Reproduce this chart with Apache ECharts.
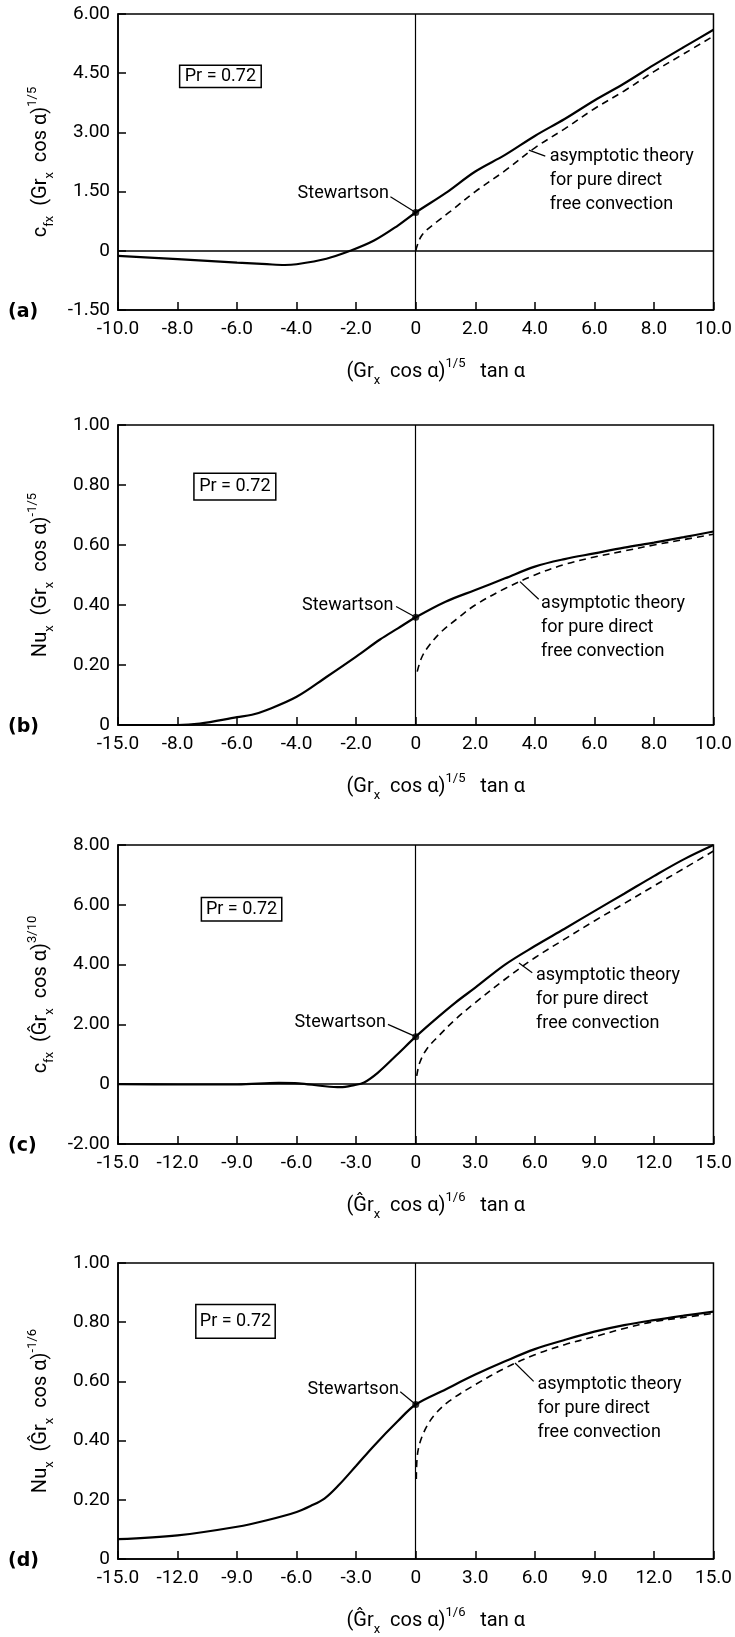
<!DOCTYPE html>
<html>
<head>
<meta charset="utf-8">
<script src="https://cdn.jsdelivr.net/npm/echarts@6/dist/echarts.min.js"></script>
<style>
html,body{margin:0;padding:0;background:#fff;}
#chart{width:735px;height:1637px;}
</style>
</head>
<body>
<div id="chart"></div>
<script>
// (a) skin friction, c_fx (Gr_x cos a)^1/5
var aSolidX = [-10,-8,-6,-5,-4.4,-4,-3,-2.2,-1.4,-0.6,0,1,2,3,4,5,6,7,8,9,10];
var aSolidY = [-0.13,-0.21,-0.30,-0.34,-0.36,-0.34,-0.2,0,0.26,0.64,0.97,1.46,2.01,2.43,2.91,3.34,3.81,4.24,4.71,5.16,5.6];
var aDashX = [0,0.2,0.7,1.15,2,3,4,5,6,7,8,9,10];
var aDashY = [0,0.39,0.73,0.99,1.5,2.03,2.61,3.09,3.6,4.05,4.54,4.99,5.44];

// (b) Nusselt, Nu_x (Gr_x cos a)^-1/5  (left end of the axis is broken: first tick reads -15.0)
var bSolidX = [-10,-8,-7.25,-6,-5.5,-5,-4,-3,-2,-1.2,-0.6,0,1,2,3,4,5,6,7,8,9,10];
var bSolidY = [0,0,0.005,0.026,0.034,0.05,0.094,0.16,0.228,0.285,0.322,0.359,0.411,0.45,0.489,0.528,0.553,0.572,0.591,0.608,0.626,0.645];
var bDashX = [0.05,0.2,0.45,0.85,1.4,2,3,4,5,6,7,8,9,10];
var bDashY = [0.178,0.225,0.265,0.31,0.355,0.40,0.455,0.50,0.535,0.56,0.58,0.60,0.618,0.636];
var bXLabels = ['-15.0','-8.0','-6.0','-4.0','-2.0','0','2.0','4.0','6.0','8.0','10.0'];

// (c) skin friction, c_fx (G^r_x cos a)^3/10
var cSolidX = [-15,-12,-9,-6.9,-5.9,-4.7,-3.8,-3.1,-2.6,-1.9,-1,0,0.9,2,3,4.5,6,7.5,9,10.5,12,13.5,15];
var cSolidY = [0,-0.01,-0.01,0.045,0.03,-0.06,-0.1,-0.03,0.06,0.39,0.95,1.59,2.12,2.73,3.23,4.0,4.62,5.2,5.79,6.37,6.96,7.52,8.0];
var cDashX = [0.05,0.2,0.55,1.15,2,3,4.5,6,7.5,9,10.5,12,13.5,15];
var cDashY = [0.28,0.72,1.17,1.61,2.17,2.73,3.51,4.23,4.85,5.46,6.04,6.63,7.21,7.8];

// (d) Nusselt, Nu_x (G^r_x cos a)^-1/6
var dSolidX = [-15,-12,-9,-7.5,-6,-5.3,-4.6,-3.9,-3,-2.1,-0.9,0,1.5,3,4.5,6,7.5,9,10.5,12,13.5,15];
var dSolidY = [0.067,0.08,0.109,0.131,0.159,0.179,0.204,0.248,0.315,0.383,0.466,0.522,0.573,0.623,0.668,0.709,0.74,0.768,0.79,0.807,0.822,0.836];
var dDashX = [0.03,0.1,0.4,0.9,1.7,3,4.5,6,7.5,9,10.5,12,13.5,15];
var dDashY = [0.27,0.36,0.427,0.483,0.534,0.589,0.645,0.69,0.724,0.751,0.779,0.802,0.816,0.83];

// Stewartson values at x = 0
var stewartson = [0.97, 0.359, 1.59, 0.522];

var FONT = "Roboto, 'Liberation Sans', sans-serif";

function zip(xs, ys) {
	return xs.map(function (x, i) { return [x, ys[i]]; });
}

var rich = {
	m: {fontSize: 20, lineHeight: 30, verticalAlign: 'middle', fontFamily: FONT, color: '#000'},
	s: {fontSize: 13, lineHeight: 13, verticalAlign: 'bottom', fontFamily: FONT, color: '#000'},
	p: {fontSize: 13, lineHeight: 13, verticalAlign: 'top', fontFamily: FONT, color: '#000'}
};

var panels = [
	{
		top: 14, height: 296, xmin: -10, xmax: 10, xint: 2, ymin: -1.5, ymax: 6, yint: 1.5,
		solid: zip(aSolidX, aSolidY), dash: zip(aDashX, aDashY), zeroLine: true,
		xFmt: function (v) { return v === 0 ? '0' : v.toFixed(1); },
		yName: '{m|c}{s|fx}{m|  (Gr}{s|x}{m|  cos α)}{p|1/5}',
		xName: '{m|(Gr}{s|x}{m|  cos α)}{p|1/5}{m|   tan α}',
		tag: '(a)',
		pr: [-7.93, 4.70, -5.19, 4.14],
		stew: [-0.9, 1.45], stewLead: [[-0.85, 1.37], [0, 0.97]],
		asym: [4.5, 2.4], asymLead: [[4.35, 2.4], [3.8, 2.55]]
	},
	{
		top: 425, height: 300, xmin: -10, xmax: 10, xint: 2, ymin: 0, ymax: 1, yint: 0.2,
		solid: zip(bSolidX, bSolidY), dash: zip(bDashX, bDashY), zeroLine: false,
		xFmt: function (v) { return bXLabels[Math.round((v + 10) / 2)]; },
		yName: '{m|Nu}{s|x}{m|  (Gr}{s|x}{m|  cos α)}{p|-1/5}',
		xName: '{m|(Gr}{s|x}{m|  cos α)}{p|1/5}{m|   tan α}',
		tag: '(b)',
		pr: [-7.45, 0.839, -4.7, 0.75],
		stew: [-0.75, 0.40], stewLead: [[-0.66, 0.395], [0, 0.359]],
		asym: [4.21, 0.406], asymLead: [[4.13, 0.419], [3.5, 0.478]]
	},
	{
		top: 845, height: 299, xmin: -15, xmax: 15, xint: 3, ymin: -2, ymax: 8, yint: 2,
		solid: zip(cSolidX, cSolidY), dash: zip(cDashX, cDashY), zeroLine: true,
		xFmt: function (v) { return v === 0 ? '0' : v.toFixed(1); },
		yName: '{m|c}{s|fx}{m|  (Ĝr}{s|x}{m|  cos α)}{p|3/10}',
		xName: '{m|(Ĝr}{s|x}{m|  cos α)}{p|1/6}{m|   tan α}',
		tag: '(c)',
		pr: [-10.8, 6.24, -6.75, 5.46],
		stew: [-1.5, 2.06], stewLead: [[-1.4, 2.0], [0, 1.59]],
		asym: [6.06, 3.62], asymLead: [[5.87, 3.73], [5.2, 4.05]]
	},
	{
		top: 1263, height: 298, xmin: -15, xmax: 15, xint: 3, ymin: 0, ymax: 1, yint: 0.2,
		solid: zip(dSolidX, dSolidY), dash: zip(dDashX, dDashY), zeroLine: false,
		xFmt: function (v) { return v === 0 ? '0' : v.toFixed(1); },
		yName: '{m|Nu}{s|x}{m|  (Ĝr}{s|x}{m|  cos α)}{p|-1/6}',
		xName: '{m|(Ĝr}{s|x}{m|  cos α)}{p|1/6}{m|   tan α}',
		tag: '(d)',
		pr: [-11.08, 0.86, -7.08, 0.746],
		stew: [-0.85, 0.573], stewLead: [[-0.78, 0.565], [0, 0.522]],
		asym: [6.13, 0.589], asymLead: [[5.94, 0.60], [5.0, 0.662]]
	}
];

var grids = [], xAxes = [], yAxes = [], series = [];

panels.forEach(function (p, i) {
	grids.push({
		left: 118, width: 599, top: p.top, height: p.height,
		show: true, borderColor: '#000', borderWidth: 1.5, backgroundColor: 'transparent'
	});
	xAxes.push({
		type: 'value', gridIndex: i, min: p.xmin, max: p.xmax, interval: p.xint,
		axisLine: {show: true, onZero: false, lineStyle: {color: '#000', width: 1.5}},
		axisTick: {show: true, inside: true, length: 8, lineStyle: {color: '#000', width: 1.5}},
		splitLine: {show: false},
		axisLabel: {color: '#000', fontSize: 19, fontFamily: FONT, margin: 10, formatter: p.xFmt},
		name: p.xName, nameLocation: 'middle', nameGap: 47,
		nameTextStyle: {rich: rich, padding: [0, 0, 0, 40]}
	});
	yAxes.push({
		type: 'value', gridIndex: i, min: p.ymin, max: p.ymax, interval: p.yint,
		axisLine: {show: true, onZero: false, lineStyle: {color: '#000', width: 1.5}},
		axisTick: {show: true, inside: true, length: 8, lineStyle: {color: '#000', width: 1.5}},
		splitLine: {show: false},
		axisLabel: {color: '#000', fontSize: 19, fontFamily: FONT, margin: 8,
			formatter: function (v) { return v === 0 ? '0' : v.toFixed(2); }},
		name: p.yName, nameLocation: 'middle', nameRotate: 90, nameGap: 62,
		nameTextStyle: {rich: rich}
	});

	var marks = [{xAxis: 0, lineStyle: {width: 1.2}}];
	if (p.zeroLine) marks.push({yAxis: 0, lineStyle: {width: 1.6}});
	marks.push([{coord: p.stewLead[0]}, {coord: p.stewLead[1]}]);
	marks.push([{coord: p.asymLead[0]}, {coord: p.asymLead[1]}]);

	series.push({
		type: 'line', xAxisIndex: i, yAxisIndex: i, data: p.solid, smooth: 0.35,
		showSymbol: false, lineStyle: {color: '#000', width: 2.2},
		markLine: {
			silent: true, symbol: ['none', 'none'], label: {show: false},
			lineStyle: {color: '#000', type: 'solid', width: 1.2},
			data: marks
		}
	});
	series.push({
		type: 'line', xAxisIndex: i, yAxisIndex: i, data: p.dash, smooth: 0.35,
		showSymbol: false, lineStyle: {color: '#000', width: 1.6, type: [7, 5]}
	});
	series.push({
		type: 'scatter', xAxisIndex: i, yAxisIndex: i, data: [[0, stewartson[i]]],
		symbolSize: 7, itemStyle: {color: '#000'}
	});
});

var chart = echarts.init(document.getElementById('chart'));
chart.setOption({
	animation: false,
	backgroundColor: '#fff',
	grid: grids, xAxis: xAxes, yAxis: yAxes, series: series
});

// annotations placed from data coordinates
var graphics = [];
panels.forEach(function (p, i) {
	function px(pt) { return chart.convertToPixel({gridIndex: i}, pt); }
	var corner = px([p.xmin, p.ymin]);
	graphics.push({type: 'text', x: 8, y: corner[1] + 2,
		style: {text: p.tag, font: 'bold 19px "DejaVu Sans", sans-serif', fill: '#000', verticalAlign: 'middle'}});
	var b0 = px([p.pr[0], p.pr[1]]), b1 = px([p.pr[2], p.pr[3]]);
	graphics.push({type: 'rect', shape: {x: b0[0], y: b0[1], width: b1[0] - b0[0], height: b1[1] - b0[1]},
		style: {fill: 'none', stroke: '#000', lineWidth: 1.5}});
	graphics.push({type: 'text', x: (b0[0] + b1[0]) / 2, y: (b0[1] + b1[1]) / 2,
		style: {text: 'Pr = 0.72', font: '18px ' + FONT, fill: '#000', align: 'center', verticalAlign: 'middle'}});
	var s = px(p.stew);
	graphics.push({type: 'text', x: s[0], y: s[1],
		style: {text: 'Stewartson', font: '18px ' + FONT, fill: '#000', align: 'right', verticalAlign: 'middle'}});
	var a = px(p.asym);
	graphics.push({type: 'text', x: a[0], y: a[1] - 12,
		style: {text: 'asymptotic theory\nfor pure direct\nfree convection', font: '18px ' + FONT,
			lineHeight: 24, fill: '#000', align: 'left', verticalAlign: 'top'}});
});
chart.setOption({graphic: graphics});
</script>
</body>
</html>
